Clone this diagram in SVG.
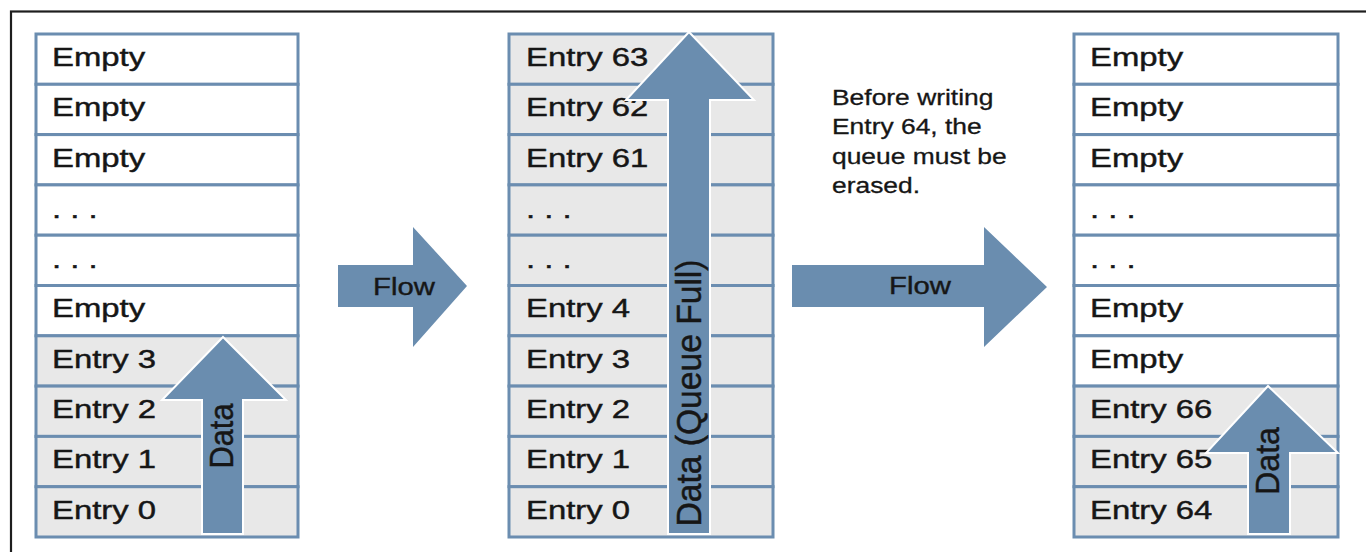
<svg xmlns="http://www.w3.org/2000/svg" width="1366" height="552" viewBox="0 0 1366 552">
<style>
.frame{fill:none;stroke:#1e1e1e;stroke-width:2.2}
.empty{fill:#ffffff;stroke:#6b8db0;stroke-width:3}
.entry{fill:#e8e8e8;stroke:#6b8db0;stroke-width:3}
.lbl{font-family:"Liberation Sans",Arial,sans-serif;font-size:26.5px;fill:#161616;stroke:#161616;stroke-width:0.45}
.arrow{fill:#6a8daf;stroke:#ffffff;stroke-width:2;stroke-linejoin:miter}
.flow{fill:#6a8daf}
.atxt{font-family:"Liberation Sans",Arial,sans-serif;fill:#161616;stroke:#161616;stroke-width:0.4}
.note{font-family:"Liberation Sans",Arial,sans-serif;font-size:21.3px;fill:#161616;stroke:#161616;stroke-width:0.3}
</style>
<rect class="frame" x="11" y="11.5" width="1400" height="600"/>

<g id="stack-left">
  <rect class="empty" x="36" y="34" width="262" height="50.3"/>
  <rect class="empty" x="36" y="84.3" width="262" height="50.3"/>
  <rect class="empty" x="36" y="134.6" width="262" height="50.3"/>
  <rect class="empty" x="36" y="184.9" width="262" height="50.3"/>
  <rect class="empty" x="36" y="235.2" width="262" height="50.3"/>
  <rect class="empty" x="36" y="285.5" width="262" height="50.3"/>
  <rect class="entry" x="36" y="335.8" width="262" height="50.3"/>
  <rect class="entry" x="36" y="386.1" width="262" height="50.3"/>
  <rect class="entry" x="36" y="436.4" width="262" height="50.3"/>
  <rect class="entry" x="36" y="486.7" width="262" height="50.3"/>
  <g class="lbl" transform="translate(52 0) scale(1.24 1)">
    <text x="0" y="66">Empty</text>
    <text x="0" y="116.3">Empty</text>
    <text x="0" y="166.6">Empty</text>
    <text x="0" y="218">. . .</text>
    <text x="0" y="268">. . .</text>
    <text x="0" y="317.5">Empty</text>
    <text x="0" y="367.8">Entry 3</text>
    <text x="0" y="418.1">Entry 2</text>
    <text x="0" y="468.4">Entry 1</text>
    <text x="0" y="518.7">Entry 0</text>
  </g>
</g>

<g id="stack-middle">
  <rect class="entry" x="509" y="34" width="264" height="50.3"/>
  <rect class="entry" x="509" y="84.3" width="264" height="50.3"/>
  <rect class="entry" x="509" y="134.6" width="264" height="50.3"/>
  <rect class="entry" x="509" y="184.9" width="264" height="50.3"/>
  <rect class="entry" x="509" y="235.2" width="264" height="50.3"/>
  <rect class="entry" x="509" y="285.5" width="264" height="50.3"/>
  <rect class="entry" x="509" y="335.8" width="264" height="50.3"/>
  <rect class="entry" x="509" y="386.1" width="264" height="50.3"/>
  <rect class="entry" x="509" y="436.4" width="264" height="50.3"/>
  <rect class="entry" x="509" y="486.7" width="264" height="50.3"/>
  <g class="lbl" transform="translate(526 0) scale(1.24 1)">
    <text x="0" y="66">Entry 63</text>
    <text x="0" y="116.3">Entry 62</text>
    <text x="0" y="166.6">Entry 61</text>
    <text x="0" y="218">. . .</text>
    <text x="0" y="268">. . .</text>
    <text x="0" y="317.5">Entry 4</text>
    <text x="0" y="367.8">Entry 3</text>
    <text x="0" y="418.1">Entry 2</text>
    <text x="0" y="468.4">Entry 1</text>
    <text x="0" y="518.7">Entry 0</text>
  </g>
</g>

<g id="stack-right">
  <rect class="empty" x="1074" y="34" width="264" height="50.3"/>
  <rect class="empty" x="1074" y="84.3" width="264" height="50.3"/>
  <rect class="empty" x="1074" y="134.6" width="264" height="50.3"/>
  <rect class="empty" x="1074" y="184.9" width="264" height="50.3"/>
  <rect class="empty" x="1074" y="235.2" width="264" height="50.3"/>
  <rect class="empty" x="1074" y="285.5" width="264" height="50.3"/>
  <rect class="empty" x="1074" y="335.8" width="264" height="50.3"/>
  <rect class="entry" x="1074" y="386.1" width="264" height="50.3"/>
  <rect class="entry" x="1074" y="436.4" width="264" height="50.3"/>
  <rect class="entry" x="1074" y="486.7" width="264" height="50.3"/>
  <g class="lbl" transform="translate(1090 0) scale(1.24 1)">
    <text x="0" y="66">Empty</text>
    <text x="0" y="116.3">Empty</text>
    <text x="0" y="166.6">Empty</text>
    <text x="0" y="218">. . .</text>
    <text x="0" y="268">. . .</text>
    <text x="0" y="317.5">Empty</text>
    <text x="0" y="367.8">Empty</text>
    <text x="0" y="418.1">Entry 66</text>
    <text x="0" y="468.4">Entry 65</text>
    <text x="0" y="518.7">Entry 64</text>
  </g>
</g>

<g id="note">
  <g class="note" transform="translate(832 0) scale(1.24 1)">
    <text x="0" y="105">Before writing</text>
    <text x="0" y="134.5">Entry 64, the</text>
    <text x="0" y="164">queue must be</text>
    <text x="0" y="193">erased.</text>
  </g>
</g>

<g id="connectors">
  <polygon class="arrow" points="223,337 286,400 243,400 243,534 202,534 202,400 162,400"/>
  <text class="atxt" font-size="29" text-anchor="middle" dominant-baseline="central" textLength="65" lengthAdjust="spacingAndGlyphs" transform="translate(222 436) scale(1.15 1) rotate(-90)">Data</text>

  <polygon class="arrow" points="689,32 754,100 710,100 710,534 668,534 668,100 626,100"/>
  <text class="atxt" font-size="30" text-anchor="middle" dominant-baseline="central" textLength="267" lengthAdjust="spacingAndGlyphs" transform="translate(689 393) scale(1.15 1) rotate(-90)">Data (Queue Full)</text>

  <polygon class="arrow" points="1268,386 1338,453 1290,453 1290,534 1248,534 1248,453 1206,453"/>
  <text class="atxt" font-size="29" text-anchor="middle" dominant-baseline="central" textLength="68" lengthAdjust="spacingAndGlyphs" transform="translate(1268 461) scale(1.15 1) rotate(-90)">Data</text>

  <polygon class="flow" points="338,265 413,265 413,227 467,286 413,347 413,307 338,307"/>
  <text class="atxt" font-size="24" text-anchor="middle" transform="translate(404 295) scale(1.22 1)">Flow</text>

  <polygon class="flow" points="792,265 984,265 984,227 1047,287 984,347 984,307 792,307"/>
  <text class="atxt" font-size="24" text-anchor="middle" transform="translate(920 294) scale(1.22 1)">Flow</text>
</g>
</svg>
